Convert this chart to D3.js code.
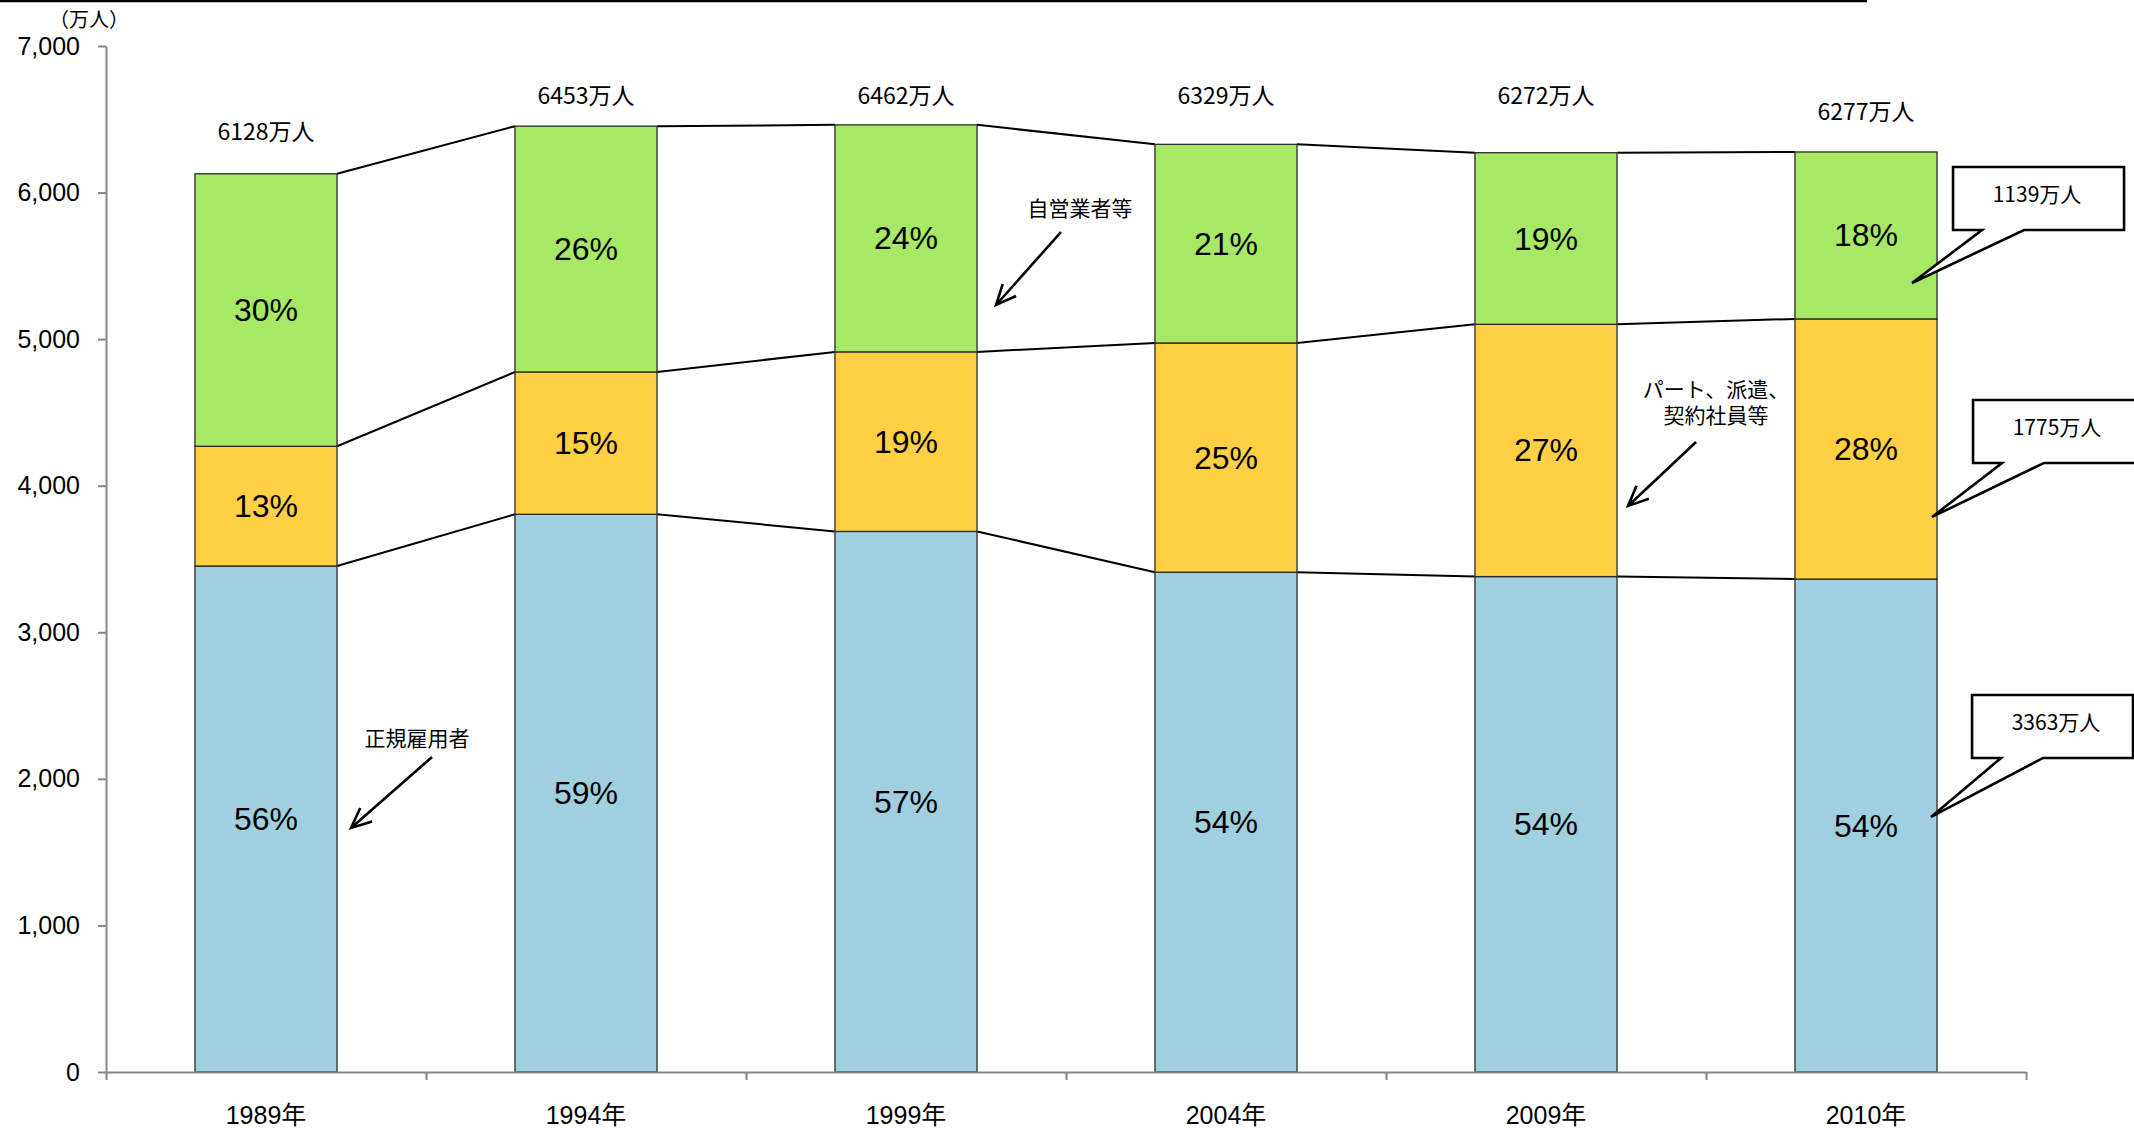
<!DOCTYPE html>
<html>
<head>
<meta charset="utf-8">
<script src="https://cdn.jsdelivr.net/npm/d3@7"></script>
<style>
  body { margin: 0; background: #fff; }
  svg { display: block; }
  .tick text { fill: #000; }
</style>
</head>
<body>
<div id="chart"></div>
<script>
// employment by type, 万人
const years = ['1989年', '1994年', '1999年', '2004年', '2009年', '2010年']
const regular = [3452, 3805, 3688, 3410, 3380, 3363]
const nonRegular = [817, 971, 1225, 1564, 1721, 1775]
const selfEmployed = [1859, 1677, 1549, 1355, 1171, 1139]
const totals = [6128, 6453, 6462, 6329, 6272, 6277]
const yTicks = [0, 1000, 2000, 3000, 4000, 5000, 6000, 7000]
const seriesKeys = ['regular', 'nonRegular', 'selfEmployed']
const seriesColors = ['#a0cfdf', '#ffd043', '#a7e865']

// where the total labels sit, in data units
const totalLabelLevel = [6430, 6670, 6670, 6670, 6670, 6560]

const width = 2134
const height = 1130
const left = 106
const right = 2026
const yTop = 46
const yBottom = 1072

const LATIN = '"Liberation Sans", Arial, "Noto Sans CJK JP", sans-serif'
const NARROW = '"Liberation Sans Narrow", "Arial Narrow", "Noto Sans CJK JP", sans-serif'
const CJK = '"Noto Sans CJK JP", "Noto Sans", sans-serif'

const rows = years.map((year, i) => ({
  year: year,
  regular: regular[i],
  nonRegular: nonRegular[i],
  selfEmployed: selfEmployed[i],
  total: totals[i]
}))

const stack = d3.stack().keys(seriesKeys)(rows)

const x = d3.scaleBand()
  .domain(years)
  .range([left, right])
  .paddingInner(0.556)
  .paddingOuter(0.278)

const slots = d3.scaleLinear().domain([0, years.length]).range([left, right])

const y = d3.scaleLinear().domain([0, 7000]).range([yBottom, yTop])

const svg = d3.select('#chart')
  .append('svg')
  .attr('width', width)
  .attr('height', height)

// frame line along the top
svg.append('line')
  .attr('x1', 0).attr('x2', 1867)
  .attr('y1', 1).attr('y2', 1)
  .attr('stroke', '#000')
  .attr('stroke-width', 2.5)

svg.append('text')
  .attr('x', 89)
  .attr('y', 18)
  .attr('text-anchor', 'middle')
  .attr('dominant-baseline', 'central')
  .style('font-family', CJK)
  .style('font-size', '20px')
  .text('（万人）')

// connector lines between bars at each stack boundary
const bw = x.bandwidth()
stack.forEach(layer => {
  for (let i = 0; i < years.length - 1; i++) {
    svg.append('line')
      .attr('x1', x(years[i]) + bw)
      .attr('y1', y(layer[i][1]))
      .attr('x2', x(years[i + 1]))
      .attr('y2', y(layer[i + 1][1]))
      .attr('stroke', '#000')
      .attr('stroke-width', 2)
  }
})

// bars
const layers = svg.append('g')
  .selectAll('g')
  .data(stack)
  .enter().append('g')
  .attr('fill', (d, i) => seriesColors[i])

layers.selectAll('rect')
  .data(d => d)
  .enter().append('rect')
  .attr('x', d => x(d.data.year))
  .attr('y', d => y(d[1]))
  .attr('width', bw)
  .attr('height', d => y(d[0]) - y(d[1]))
  .attr('stroke', '#2a2a2a')
  .attr('stroke-width', 1.3)

// percentage labels
layers.selectAll('text')
  .data(d => d)
  .enter().append('text')
  .attr('x', d => x(d.data.year) + bw / 2)
  .attr('y', d => y((d[0] + d[1]) / 2))
  .attr('text-anchor', 'middle')
  .attr('dominant-baseline', 'central')
  .attr('fill', '#000')
  .style('font-family', LATIN)
  .style('font-size', '32px')
  .text(d => Math.round((d[1] - d[0]) / d.data.total * 100) + '%')

// total labels
svg.append('g')
  .selectAll('text')
  .data(rows)
  .enter().append('text')
  .attr('x', d => x(d.year) + bw / 2)
  .attr('y', (d, i) => y(totalLabelLevel[i]))
  .attr('text-anchor', 'middle')
  .attr('dominant-baseline', 'central')
  .style('font-family', NARROW)
  .style('font-size', '23px')
  .text(d => d.total + '万人')

// y axis
const yAxis = svg.append('g')
  .attr('transform', `translate(${left},0)`)
  .call(d3.axisLeft(y)
    .tickValues(yTicks)
    .tickFormat(d3.format(','))
    .tickSize(8)
    .tickSizeOuter(0)
    .tickPadding(18))

// x axis, ticks at slot boundaries
const xAxis = svg.append('g')
  .attr('transform', `translate(0,${yBottom})`)
  .call(d3.axisBottom(slots)
    .tickValues(d3.range(years.length + 1))
    .tickFormat('')
    .tickSize(8)
    .tickSizeOuter(0))

;[yAxis, xAxis].forEach(ax => {
  ax.select('.domain').attr('stroke', '#868686').attr('stroke-width', 2)
  ax.selectAll('.tick line').attr('stroke', '#868686').attr('stroke-width', 2)
})
yAxis.selectAll('.tick text')
  .style('font-family', LATIN)
  .style('font-size', '25px')

svg.append('g')
  .selectAll('text')
  .data(years)
  .enter().append('text')
  .attr('x', d => x(d) + bw / 2)
  .attr('y', 1115)
  .attr('text-anchor', 'middle')
  .attr('dominant-baseline', 'central')
  .style('font-family', LATIN)
  .style('font-size', '25px')
  .text(d => d)

// arrow annotations: label lines, arrow start and tip (tip x offset from bar right edge)
const notes = [
  { lines: ['正規雇用者'], year: '1989年', textDx: 80, textLevel: 2286, from: [95, 2149], tip: [14, 1665] },
  { lines: ['自営業者等'], year: '1999年', textDx: 103, textLevel: 5902, from: [84, 5731], tip: [19, 5233] },
  { lines: ['パート、派遣、', '契約社員等'], year: '2009年', textDx: 99, textLevel: 4667, from: [79, 4298], tip: [11, 3862] }
]

notes.forEach(n => {
  const edge = x(n.year) + bw
  const g = svg.append('g')
  n.lines.forEach((line, k) => {
    g.append('text')
      .attr('x', edge + n.textDx)
      .attr('y', y(n.textLevel) + k * 26)
      .attr('text-anchor', 'middle')
      .attr('dominant-baseline', 'central')
      .style('font-family', CJK)
      .style('font-size', '21px')
      .text(line)
  })
  const x1 = edge + n.from[0], y1 = y(n.from[1])
  const x2 = edge + n.tip[0], y2 = y(n.tip[1])
  const a = Math.atan2(y1 - y2, x1 - x2)
  const len = 22, spread = 0.42
  const path = d3.path()
  path.moveTo(x1, y1)
  path.lineTo(x2, y2)
  path.moveTo(x2 + len * Math.cos(a - spread), y2 + len * Math.sin(a - spread))
  path.lineTo(x2, y2)
  path.lineTo(x2 + len * Math.cos(a + spread), y2 + len * Math.sin(a + spread))
  g.append('path')
    .attr('d', path.toString())
    .attr('fill', 'none')
    .attr('stroke', '#000')
    .attr('stroke-width', 2.6)
})

// callouts for 2010 values
const last = years.length - 1
const callouts = [
  { value: selfEmployed[last], tipLevel: 5383, tipDx: -25, boxW: 171, rise: 116 },
  { value: nonRegular[last], tipLevel: 3787, tipDx: -5, boxW: 230, rise: 117 },
  { value: regular[last], tipLevel: 1740, tipDx: -6, boxW: 161, rise: 122 }
]

callouts.forEach(c => {
  const tx = x(years[last]) + bw + c.tipDx
  const ty = y(c.tipLevel)
  const bl = tx + 41, br = bl + c.boxW
  const bt = ty - c.rise, bb = bt + 63
  const p = d3.path()
  p.moveTo(bl, bt)
  p.lineTo(br, bt)
  p.lineTo(br, bb)
  p.lineTo(tx + 112, bb)
  p.lineTo(tx, ty)
  p.lineTo(tx + 70, bb)
  p.lineTo(bl, bb)
  p.closePath()
  svg.append('path')
    .attr('d', p.toString())
    .attr('fill', '#fff')
    .attr('stroke', '#000')
    .attr('stroke-width', 2.6)
    .attr('stroke-linejoin', 'miter')
  svg.append('text')
    .attr('x', bl + 84)
    .attr('y', bt + 26)
    .attr('text-anchor', 'middle')
    .attr('dominant-baseline', 'central')
    .style('font-family', CJK)
    .style('font-size', '21px')
    .text(c.value + '万人')
})
</script>
</body>
</html>
